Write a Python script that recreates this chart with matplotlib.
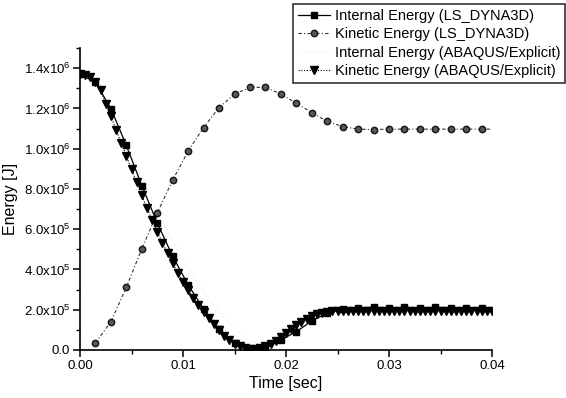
import numpy as np
import matplotlib
matplotlib.use("Agg")
import matplotlib.pyplot as plt
from matplotlib.ticker import MultipleLocator, FixedLocator

plt.rcParams['font.family'] = ['Liberation Sans', 'DejaVu Sans']
plt.rcParams['mathtext.fontset'] = 'custom'
plt.rcParams['mathtext.rm'] = 'Liberation Sans'

# ---- data (energies in units of 1e6 J) ----
t_ls_internal = [0.0, 0.0015, 0.003, 0.0045, 0.006, 0.0075, 0.009, 0.0105, 0.012, 0.0135,
                 0.015, 0.0165, 0.018, 0.0195, 0.021, 0.0225, 0.024, 0.0255, 0.027, 0.0285,
                 0.030, 0.0315, 0.033, 0.0345, 0.036, 0.0375, 0.039, 0.040]
ls_internal = [1.370, 1.330, 1.199, 1.016, 0.817, 0.631, 0.465, 0.324, 0.203, 0.103,
               0.033, 0.004, 0.008, 0.050, 0.091, 0.144, 0.183, 0.203, 0.208, 0.213,
               0.208, 0.212, 0.209, 0.212, 0.210, 0.207, 0.210, 0.205]

t_ls_kinetic = [0.0015, 0.003, 0.0045, 0.006, 0.0075, 0.009, 0.0105, 0.012, 0.0135, 0.015,
                0.0165, 0.018, 0.0195, 0.021, 0.0225, 0.024, 0.0255, 0.027, 0.0285, 0.030,
                0.0315, 0.033, 0.0345, 0.036, 0.0375, 0.039, 0.040]
ls_kinetic = [0.035, 0.141, 0.312, 0.502, 0.681, 0.844, 0.988, 1.105, 1.204, 1.271,
              1.304, 1.305, 1.271, 1.226, 1.179, 1.135, 1.110, 1.097, 1.095, 1.097,
              1.097, 1.097, 1.097, 1.097, 1.097, 1.097, 1.097]

t_abq_internal = [0.0, 0.002, 0.004, 0.006, 0.008, 0.010, 0.012, 0.014, 0.016, 0.018,
                  0.020, 0.022, 0.024, 0.026, 0.028, 0.030, 0.032, 0.034, 0.036, 0.038, 0.040]
abq_internal = [1.370, 1.290, 1.080, 0.860, 0.640, 0.450, 0.290, 0.160, 0.060, 0.010,
                0.060, 0.140, 0.185, 0.200, 0.203, 0.203, 0.203, 0.203, 0.203, 0.203, 0.203]

t_abq_kinetic = [round(0.0005 * i, 4) for i in range(81)]
abq_kinetic = [1.370, 1.366, 1.354, 1.330, 1.290, 1.222, 1.160, 1.095, 1.030, 0.965,
               0.898, 0.833, 0.768, 0.705, 0.645, 0.588, 0.533, 0.480, 0.430, 0.383,
               0.339, 0.297, 0.258, 0.222, 0.188, 0.157, 0.128, 0.100, 0.072, 0.050,
               0.032, 0.018, 0.009, 0.004, 0.005, 0.010, 0.018, 0.030, 0.046, 0.065,
               0.085, 0.105, 0.123, 0.140, 0.155, 0.167, 0.177, 0.184, 0.189, 0.193,
               0.195, 0.196, 0.194, 0.196, 0.194, 0.196, 0.194, 0.196, 0.194, 0.196,
               0.194, 0.196, 0.194, 0.196, 0.194, 0.196, 0.194, 0.196, 0.194, 0.196,
               0.194, 0.196, 0.194, 0.196, 0.194, 0.196, 0.194, 0.196, 0.194, 0.196, 0.195]

y_ticks = [0.0, 0.2e6, 0.4e6, 0.6e6, 0.8e6, 1.0e6, 1.2e6, 1.4e6]
y_tick_labels = ['0.0', r'2.0x10$^{5}$', r'4.0x10$^{5}$', r'6.0x10$^{5}$', r'8.0x10$^{5}$',
                 r'1.0x10$^{6}$', r'1.2x10$^{6}$', r'1.4x10$^{6}$']
x_ticks = [0.0, 0.01, 0.02, 0.03, 0.04]
x_tick_labels = ['0.00', '0.01', '0.02', '0.03', '0.04']

labels = ['Internal Energy (LS_DYNA3D)', 'Kinetic Energy (LS_DYNA3D)',
          'Internal Energy (ABAQUS/Explicit)', 'Kinetic Energy (ABAQUS/Explicit)']

fig = plt.figure(figsize=(5.66, 3.98), dpi=100)
ax = fig.add_axes([80/566, 48/398, 412/566, 302/398])

scale = 1e6
ax.plot(t_ls_internal, np.array(ls_internal) * scale, color='black', lw=0.9, ls='-',
        marker='s', ms=5, mfc='black', mec='black', markevery=slice(0, -1),
        label=labels[0], zorder=4)
ax.plot(t_ls_kinetic, np.array(ls_kinetic) * scale, color='#333333', lw=0.8, ls=(0, (3, 2, 1, 2)),
        marker='o', ms=4.5, mfc='#5a5a5a', mec='#1a1a1a', mew=1.1, markevery=slice(0, -1),
        label=labels[1], zorder=3)
ax.plot(t_abq_internal, np.array(abq_internal) * scale, color='#e6e6e6', lw=0.5, ls=(0, (2, 2)),
        label=labels[2], zorder=2)
ax.plot(t_abq_kinetic, np.array(abq_kinetic) * scale, color='black', lw=0.8, ls=(0, (1, 1.5)),
        marker='v', ms=5.5, mfc='black', mec='black',
        label=labels[3], zorder=5)

ax.set_xlim(0, 0.04)
ax.set_ylim(0, 1.5e6)
ax.spines['top'].set_visible(False)
ax.spines['right'].set_visible(False)
ax.spines['left'].set_linewidth(1.2)
ax.spines['bottom'].set_linewidth(1.2)

ax.xaxis.set_major_locator(FixedLocator(x_ticks))
ax.set_xticklabels(x_tick_labels)
ax.xaxis.set_minor_locator(MultipleLocator(0.005))
ax.yaxis.set_major_locator(FixedLocator(y_ticks))
ax.set_yticklabels(y_tick_labels)
ax.yaxis.set_minor_locator(MultipleLocator(0.1e6))
ax.tick_params(which='major', direction='out', length=5, width=1.1, labelsize=9.5, pad=2)
ax.tick_params(which='minor', direction='out', length=3, width=1.0)

ax.set_xlabel('Time [sec]', fontsize=11.5, labelpad=3)
ax.set_ylabel('Energy [J]', fontsize=11.5, labelpad=4)

leg = fig.legend(loc='upper left', bbox_to_anchor=(293/566, 1 - 4/398),
                 fontsize=10.5, frameon=True, fancybox=False, edgecolor='black',
                 handlelength=2.2, handletextpad=0.3, labelspacing=0.3,
                 borderpad=0.35, borderaxespad=0.0)
leg.get_frame().set_linewidth(1.2)

fig.savefig('out.png', dpi=100)
